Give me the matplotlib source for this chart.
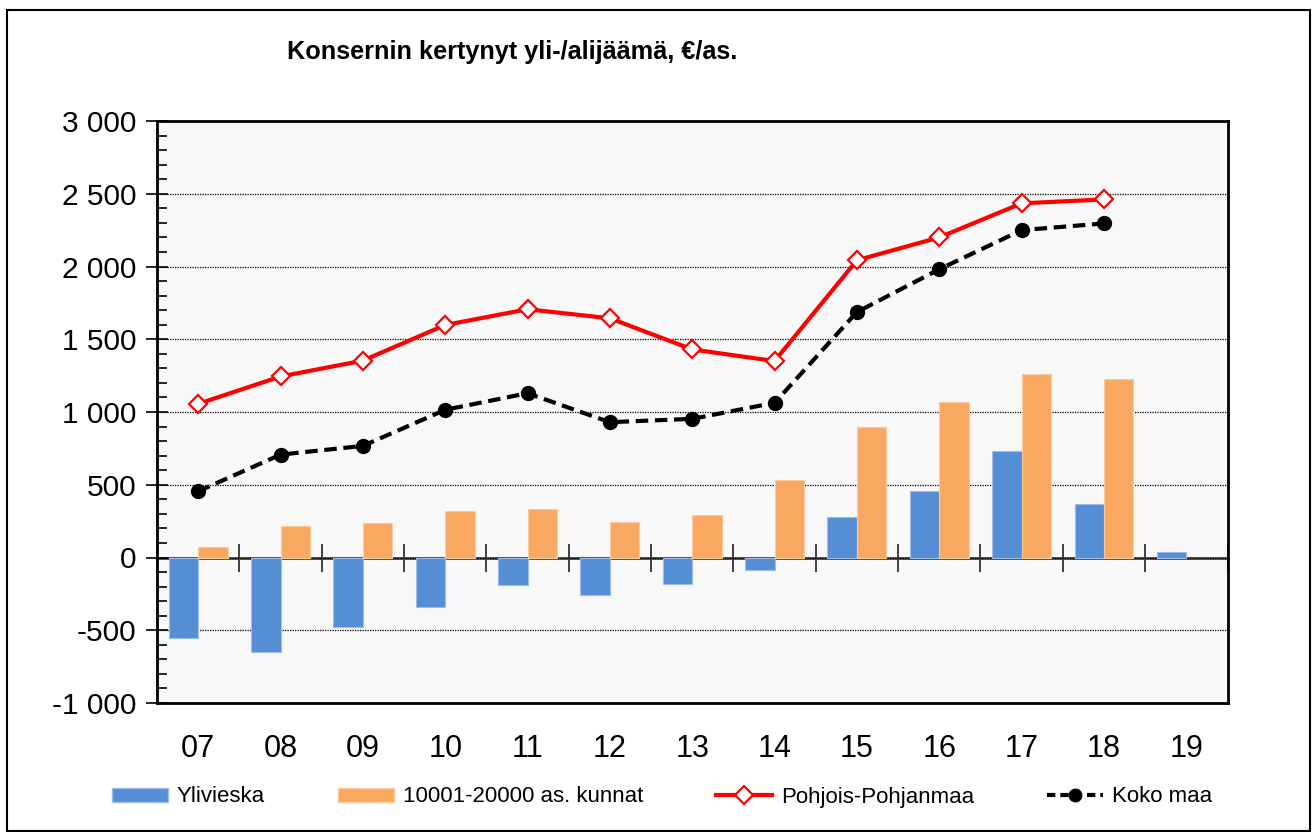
import numpy as np
import matplotlib
matplotlib.use("Agg")
import matplotlib.pyplot as plt
from matplotlib.patches import Patch, Rectangle
from matplotlib.lines import Line2D
from matplotlib.ticker import MultipleLocator, FuncFormatter

plt.rcParams['font.family'] = ['Liberation Sans', 'DejaVu Sans']

categories = ["07", "08", "09", "10", "11", "12", "13", "14", "15", "16", "17", "18", "19"]
ylivieska = [-550, -650, -480, -340, -190, -258, -183, -85, 278, 457, 735, 368, 37]
kunnat_10001_20000 = [70, 218, 234, 317, 333, 244, 292, 530, 898, 1072, 1260, 1228, np.nan]
pohjois_pohjanmaa = [1056, 1244, 1353, 1598, 1706, 1644, 1430, 1350, 2043, 2200, 2434, 2461, np.nan]
koko_maa = [455, 707, 767, 1015, 1129, 930, 953, 1063, 1687, 1981, 2250, 2296, np.nan]

title = "Konsernin kertynyt yli-/alijäämä, €/as."
labels = ["Ylivieska", "10001-20000 as. kunnat", "Pohjois-Pohjanmaa", "Koko maa"]

BLUE = "#558ED5"
ORANGE = "#F9A862"
RED = "#FF0000"

fig = plt.figure(figsize=(13.14, 8.32), dpi=100)
fig.patch.set_facecolor("white")
fig.add_artist(Rectangle((7/1314, 1 - 831/832), (1310-7)/1314, (831-10)/832,
                         transform=fig.transFigure, fill=False, edgecolor="black", lw=1.5))

ax = fig.add_axes([157/1314, 1 - 703/832, (1227.5-157)/1314, (703-121)/832])
ax.set_facecolor("#F8F8F8")

x = np.arange(len(categories))
w = 0.358
ax.bar(x - w/2, ylivieska, width=w, color=BLUE, edgecolor="#9DBDE8", linewidth=0.8, zorder=2)
ax.bar(x + w/2, kunnat_10001_20000, width=w, color=ORANGE, edgecolor="#FCCB9E", linewidth=0.8, zorder=2)

ax.plot(x, pohjois_pohjanmaa, color=RED, lw=3, marker="D", markersize=9,
        markerfacecolor="white", markeredgecolor=RED, markeredgewidth=1.6, zorder=4)
ax.plot(x, koko_maa, color="black", lw=3, linestyle=(0, (3, 1.6)), marker="o", markersize=10,
        markerfacecolor="black", markeredgecolor="black", zorder=4)

ymin, ymax = -1000, 3000
ax.set_ylim(ymin, ymax)
ax.set_xlim(-0.5, len(categories) - 0.5)

ax.yaxis.set_major_locator(MultipleLocator(500))
ax.yaxis.set_minor_locator(MultipleLocator(100))
ax.yaxis.set_major_formatter(FuncFormatter(lambda v, p: f"{int(v):,}".replace(",", " ")))
ax.tick_params(axis="y", which="major", direction="inout", length=16, width=1.2,
               labelsize=21.5, pad=7)
ax.tick_params(axis="y", which="minor", direction="in", length=7, width=1.2)

ax.set_xticks(x)
ax.set_xticklabels(categories)
ax.tick_params(axis="x", which="major", length=0, labelsize=22, pad=22)

ax.yaxis.grid(True, which="major", linestyle=(0, (1, 1)), color="black", lw=0.9)
ax.set_axisbelow(True)

for s in ax.spines.values():
    s.set_linewidth(2)
    s.set_color("black")

zero_pos = (0 - ymin) / (ymax - ymin)
sec = ax.secondary_xaxis(zero_pos)
sec.set_xticks(np.arange(len(categories) + 1) - 0.5)
sec.tick_params(axis="x", direction="inout", length=20, width=1.2, labelbottom=False,
                labeltop=False, colors="#222222")
sec.spines["bottom"].set_color("#444444")
sec.spines["bottom"].set_linewidth(2)
sec.spines["top"].set_visible(False)
sec.set_xticklabels([])

fig.text(287/1314, 1 - 52/832, title, fontsize=18.2, fontweight="bold", ha="left", va="center")

handles = [
    Patch(facecolor=BLUE, edgecolor="#9DBDE8"),
    Patch(facecolor=ORANGE, edgecolor="#FCCB9E"),
    Line2D([], [], color=RED, lw=3, marker="D", markersize=9, markerfacecolor="white",
           markeredgecolor=RED, markeredgewidth=1.6),
    Line2D([], [], color="black", lw=3, linestyle=(0, (2, 1.2)), marker="o", markersize=9),
]
fig.legend(handles, labels, loc="center", bbox_to_anchor=(662/1314, 1 - 797/832), ncol=4,
           frameon=False, fontsize=16, handlelength=2.5, handleheight=0.6,
           columnspacing=3.3, handletextpad=0.4)

fig.savefig("out.png", dpi=100)
